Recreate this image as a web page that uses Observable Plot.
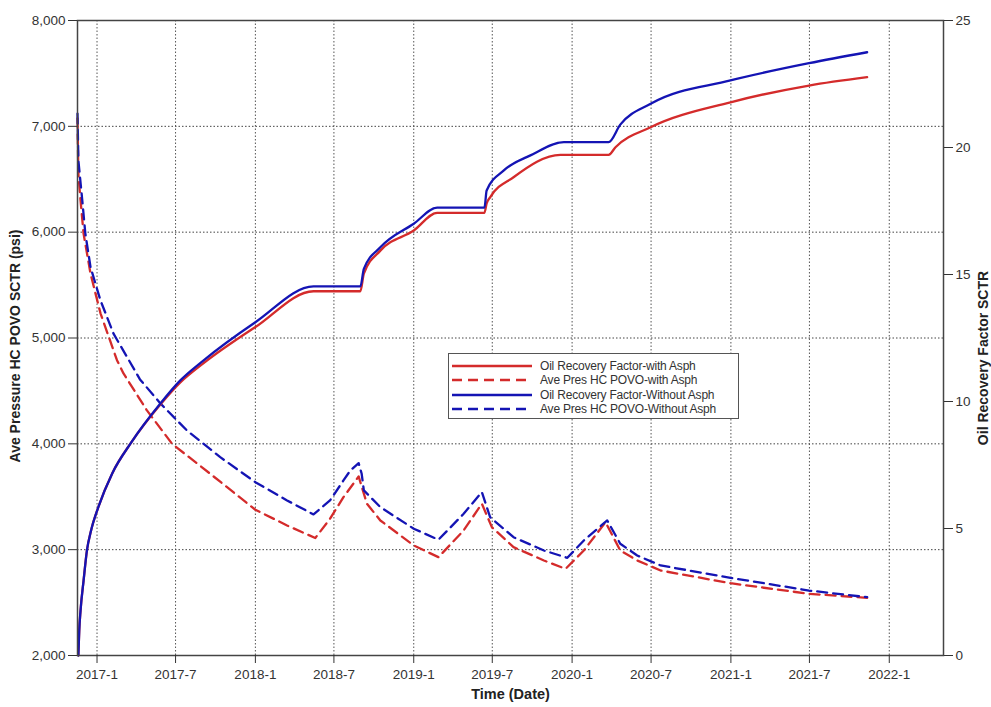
<!DOCTYPE html>
<html>
<head>
<meta charset="utf-8">
<script src="https://cdn.jsdelivr.net/npm/d3@7"></script>
<script src="https://cdn.jsdelivr.net/npm/@observablehq/plot@0.6"></script>
<style>
  html, body { margin: 0; padding: 0; background: #fff; }
  #wrap { position: relative; width: 991px; height: 707px; font-family: "Liberation Sans", Arial, sans-serif; }
  #legend { position: absolute; left: 448px; top: 353px; width: 291px; height: 66px; background: #fff; border: 1px solid #555; box-sizing: border-box; }
  .row { position: absolute; left: 0; height: 14px; display: flex; align-items: center; }
  .row svg { margin-left: 3px; }
  .row span { margin-left: 8px; font-size: 12px; color: #333; letter-spacing: -0.2px; white-space: nowrap; }
</style>
</head>
<body>
<div id="wrap"></div>
<script>
// ---- axis ticks and labels ----
const xTickDates = ["2017-01-01","2017-07-01","2018-01-01","2018-07-01","2019-01-01","2019-07-01","2020-01-01","2020-07-01","2021-01-01","2021-07-01","2022-01-01"];
const xTickLabels = ["2017-1","2017-7","2018-1","2018-7","2019-1","2019-7","2020-1","2020-7","2021-1","2021-7","2022-1"];
const pressureTicks = [2000, 3000, 4000, 5000, 6000, 7000, 8000];
const pressureTickLabels = ["2,000","3,000","4,000","5,000","6,000","7,000","8,000"];
const rfTicks = [0, 5, 10, 15, 20, 25];
const rfTickLabels = ["0","5","10","15","20","25"];
const seriesNames = ["Oil Recovery Factor-with Asph", "Ave Pres HC POVO-with Asph", "Oil Recovery Factor-Without Asph", "Ave Pres HC POVO-Without Asph"];

// ---- Oil recovery factor with asphaltene (red, solid, right axis) ----
const rfWithDates = ["2016-11-19","2016-11-21","2016-11-24","2016-12-01","2016-12-09","2016-12-18","2017-01-04","2017-02-05","2017-03-21","2017-05-27","2017-07-12","2017-09-03","2018-01-01","2018-05-15","2018-08-31","2018-09-08","2018-10-16","2019-01-01","2019-02-24","2019-06-13","2019-06-18","2019-06-26","2019-08-19","2019-12-05","2020-03-25","2020-04-10","2020-06-30","2020-12-31","2021-06-30","2021-11-11"];
const rfWith = [0, 0.98, 1.77, 2.95, 4.17, 4.9, 5.84, 7.17, 8.39, 9.88, 10.75, 11.5, 12.93, 14.34, 14.34, 15.03, 15.94, 16.73, 17.43, 17.43, 17.8, 18.04, 18.83, 19.71, 19.71, 20.01, 20.8, 21.78, 22.44, 22.77];

// ---- Oil recovery factor without asphaltene (blue, solid, right axis) ----
const rfWithoutDates = ["2016-11-19","2016-11-21","2016-11-24","2016-12-01","2016-12-09","2016-12-18","2017-01-04","2017-02-05","2017-03-21","2017-05-27","2017-07-12","2017-09-03","2018-01-01","2018-05-15","2018-08-31","2018-09-08","2018-10-16","2019-01-01","2019-02-24","2019-06-13","2019-06-18","2019-07-27","2019-09-27","2019-12-13","2020-03-25","2020-04-21","2020-06-30","2020-12-31","2021-06-30","2021-11-11"];
const rfWithout = [0, 0.98, 1.77, 2.95, 4.17, 4.9, 5.84, 7.17, 8.39, 9.92, 10.83, 11.61, 13.12, 14.53, 14.53, 15.22, 16.07, 17.0, 17.63, 17.63, 18.31, 19.09, 19.69, 20.21, 20.21, 20.9, 21.72, 22.64, 23.32, 23.75];

// ---- Average pressure with asphaltene (red, dashed, left axis) ----
const presWithDates = ["2016-11-17","2016-11-19","2016-11-24","2016-12-01","2016-12-17","2017-01-09","2017-02-16","2017-03-03","2017-04-26","2017-06-23","2017-09-19","2018-01-01","2018-03-15","2018-05-19","2018-06-22","2018-07-23","2018-08-27","2018-09-15","2018-10-16","2019-01-01","2019-02-27","2019-04-26","2019-06-07","2019-06-30","2019-08-19","2019-10-28","2019-12-17","2020-01-28","2020-03-18","2020-04-21","2020-05-30","2020-07-23","2020-12-31","2021-06-30","2021-11-11"];
const presWith = [7076, 6550, 6301, 5986, 5608, 5233, 4790, 4665, 4316, 4000, 3717, 3377, 3229, 3110, 3292, 3496, 3692, 3434, 3276, 3040, 2929, 3182, 3434, 3213, 3024, 2898, 2819, 2992, 3260, 2992, 2898, 2803, 2683, 2583, 2545];

// ---- Average pressure without asphaltene (blue, dashed, left axis) ----
const presWithoutDates = ["2016-11-17","2016-11-19","2016-11-28","2016-12-05","2016-12-17","2017-01-09","2017-02-08","2017-04-10","2017-05-27","2017-07-27","2017-10-12","2018-01-01","2018-03-15","2018-05-15","2018-06-22","2018-07-23","2018-08-08","2018-08-27","2018-09-03","2018-09-08","2018-10-16","2019-01-01","2019-02-27","2019-04-26","2019-06-07","2019-06-26","2019-08-19","2019-10-28","2019-12-21","2020-01-28","2020-03-22","2020-04-21","2020-05-30","2020-07-23","2020-12-31","2021-06-30","2021-11-11"];
const presWithout = [7120, 6679, 6301, 5989, 5670, 5355, 5041, 4609, 4382, 4127, 3874, 3638, 3465, 3333, 3465, 3654, 3749, 3818, 3717, 3560, 3402, 3198, 3094, 3339, 3544, 3307, 3118, 2992, 2923, 3087, 3276, 3056, 2945, 2851, 2734, 2614, 2551];

// ---- build tables ----
const RED = "#d42b2b", BLUE = "#1414b4";
const rfToP = v => 2000 + v * 240;          // right axis (0–25) mapped onto left axis (2000–8000)
const table = (dates, vals) => dates.map((d, i) => ({date: new Date(d), value: vals[i]}));
const tRfWith = table(rfWithDates, rfWith);
const tRfWithout = table(rfWithoutDates, rfWithout);
const tPWith = table(presWithDates, presWith);
const tPWithout = table(presWithoutDates, presWithout);
const xTicks = xTickDates.map(d => new Date(d));
const xLabelMap = new Map(xTicks.map((d, i) => [+d, xTickLabels[i]]));
const pLabelMap = new Map(pressureTicks.map((d, i) => [d, pressureTickLabels[i]]));
const rfLabelMap = new Map(rfTicks.map((d, i) => [rfToP(d), rfTickLabels[i]]));
const gridY = pressureTicks.slice(1, -1);

const chart = Plot.plot({
  width: 991, height: 707,
  marginLeft: 77, marginRight: 48, marginTop: 20, marginBottom: 52,
  style: {fontFamily: "'Liberation Sans', Arial, sans-serif", fontSize: "13.5px", color: "#333", background: "#fff", overflow: "visible"},
  x: {type: "utc", domain: [new Date("2016-11-17"), new Date("2022-05-06")]},
  y: {domain: [2000, 8000]},
  marks: [
    Plot.ruleX(xTicks, {stroke: "#555", strokeWidth: 1, strokeDasharray: "1.5,2"}),
    Plot.ruleY(gridY, {stroke: "#444", strokeWidth: 1, strokeDasharray: "1.5,2"}),
    Plot.line(tPWith, {x: "date", y: "value", stroke: RED, strokeWidth: 2.3, strokeDasharray: "10,6"}),
    Plot.line(tPWithout, {x: "date", y: "value", stroke: BLUE, strokeWidth: 2.3, strokeDasharray: "10,6"}),
    Plot.line(tRfWith, {x: "date", y: d => rfToP(d.value), stroke: RED, strokeWidth: 2.3, curve: "monotone-x"}),
    Plot.line(tRfWithout, {x: "date", y: d => rfToP(d.value), stroke: BLUE, strokeWidth: 2.3, curve: "monotone-x"}),
    Plot.frame({stroke: "#444", strokeWidth: 1.5}),
    Plot.axisX({ticks: xTicks, tickFormat: d => xLabelMap.get(+d), tickSize: 8, tickPadding: 6, label: null}),
    Plot.axisY({anchor: "left", ticks: pressureTicks, tickFormat: d => pLabelMap.get(d), tickSize: 9, tickPadding: 3, label: null}),
    Plot.axisY({anchor: "right", ticks: rfTicks.map(rfToP), tickFormat: d => rfLabelMap.get(d), tickSize: 9, tickPadding: 3, label: null}),
    Plot.text(["Time (Date)"], {frameAnchor: "bottom", dy: 43, fontWeight: "bold", fontSize: 14.5, fill: "#222"}),
    Plot.text(["Ave Pressure HC POVO SCTR (psi)"], {frameAnchor: "left", textAnchor: "middle", dx: -62, dy: 8, rotate: -90, fontWeight: "bold", fontSize: 14, fill: "#222"}),
    Plot.text(["Oil Recovery Factor SCTR"], {frameAnchor: "right", textAnchor: "middle", dx: 40, dy: 20, rotate: -90, fontWeight: "bold", fontSize: 14, fill: "#222"})
  ]
});

const wrap = document.getElementById("wrap");
wrap.appendChild(chart);

// legend (inside plot area)
const legend = document.createElement("div");
legend.id = "legend";
const styles = [[RED, null], [RED, "10,6"], [BLUE, null], [BLUE, "10,6"]];
seriesNames.forEach((name, i) => {
  const row = document.createElement("div");
  row.className = "row";
  row.style.top = (5 + i * 14.3) + "px";
  const [c, dash] = styles[i];
  row.innerHTML = `<svg width="80" height="6"><line x1="0" x2="80" y1="3" y2="3" stroke="${c}" stroke-width="2.3" ${dash ? `stroke-dasharray="${dash}"` : ""}/></svg><span>${name}</span>`;
  legend.appendChild(row);
});
wrap.appendChild(legend);
</script>
</body>
</html>
